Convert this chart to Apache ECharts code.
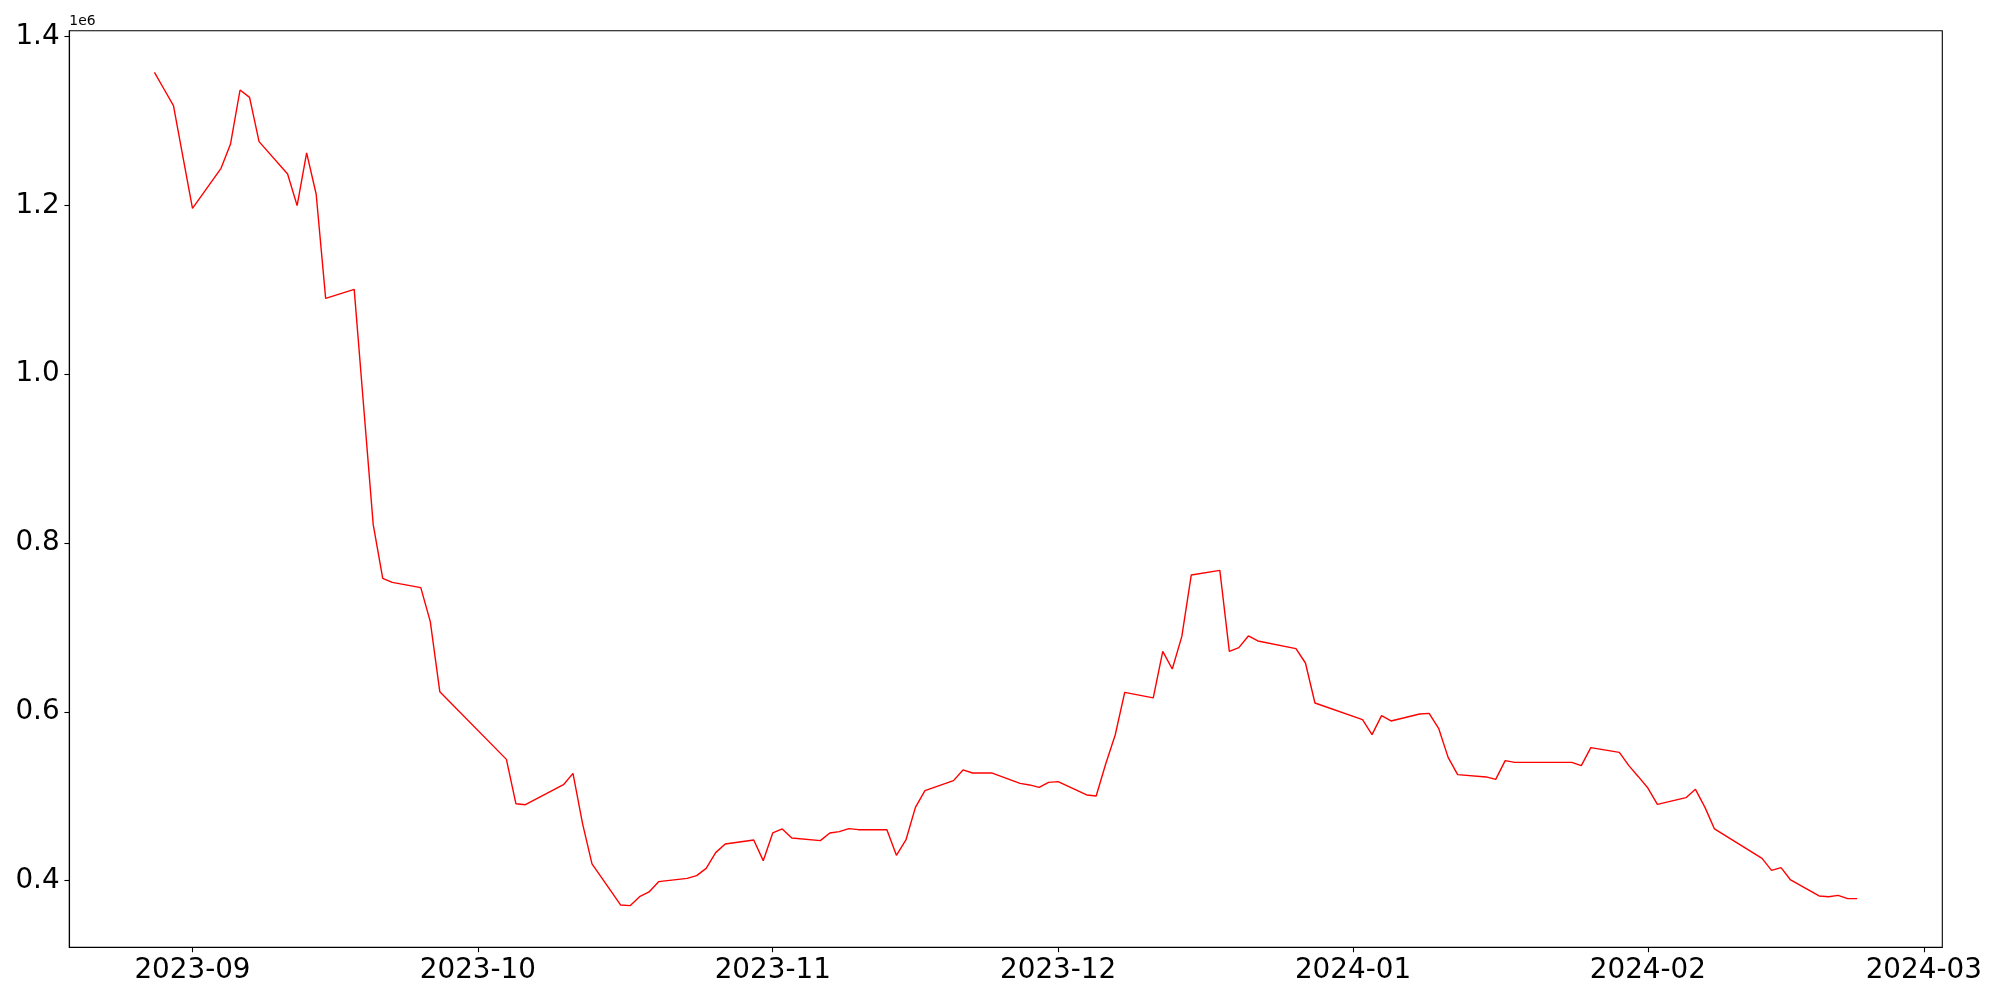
<!DOCTYPE html>
<html>
<head>
<meta charset="utf-8">
<script src="https://cdn.jsdelivr.net/npm/echarts@6/dist/echarts.min.js"></script>
<style>
html, body { margin: 0; padding: 0; background: #fff; }
#chart { width: 2000px; height: 1000px; }
</style>
</head>
<body>
<div id="chart"></div>
<script>
// Trading dates
const dates = [
  '2023-08-28','2023-08-29','2023-08-30','2023-08-31','2023-09-01',
  '2023-09-04','2023-09-05','2023-09-06','2023-09-07','2023-09-08',
  '2023-09-11','2023-09-12','2023-09-13','2023-09-14','2023-09-15',
  '2023-09-18','2023-09-19','2023-09-20','2023-09-21','2023-09-22',
  '2023-09-25','2023-09-26','2023-09-27',
  '2023-10-04','2023-10-05','2023-10-06',
  '2023-10-10','2023-10-11','2023-10-12','2023-10-13',
  '2023-10-16','2023-10-17','2023-10-18','2023-10-19','2023-10-20',
  '2023-10-23','2023-10-24','2023-10-25','2023-10-26','2023-10-27',
  '2023-10-30','2023-10-31','2023-11-01','2023-11-02','2023-11-03',
  '2023-11-06','2023-11-07','2023-11-08','2023-11-09','2023-11-10',
  '2023-11-13','2023-11-14','2023-11-15','2023-11-16','2023-11-17',
  '2023-11-20','2023-11-21','2023-11-22','2023-11-23','2023-11-24',
  '2023-11-27','2023-11-28','2023-11-29','2023-11-30','2023-12-01',
  '2023-12-04','2023-12-05','2023-12-06','2023-12-07','2023-12-08',
  '2023-12-11','2023-12-12','2023-12-13','2023-12-14','2023-12-15',
  '2023-12-18','2023-12-19','2023-12-20','2023-12-21','2023-12-22',
  '2023-12-26','2023-12-27','2023-12-28',
  '2024-01-02','2024-01-03','2024-01-04','2024-01-05',
  '2024-01-08','2024-01-09','2024-01-10','2024-01-11','2024-01-12',
  '2024-01-15','2024-01-16','2024-01-17','2024-01-18','2024-01-19',
  '2024-01-22','2024-01-23','2024-01-24','2024-01-25','2024-01-26',
  '2024-01-29','2024-01-30','2024-01-31','2024-02-01','2024-02-02',
  '2024-02-05','2024-02-06','2024-02-07','2024-02-08',
  '2024-02-13','2024-02-14','2024-02-15','2024-02-16',
  '2024-02-19','2024-02-20','2024-02-21','2024-02-22','2024-02-23'
];

// Series values
const values = [
  1357700, 1338000, 1318200, 1257300, 1196600,
  1244000, 1272900, 1336800, 1328100, 1275600,
  1237300, 1199800, 1262200, 1213600, 1089900,
  1100600, 961000, 821800, 758200, 753400,
  747200, 706900, 623900,
  543700, 491200, 490000,
  513700, 527100, 467900, 419800,
  371200, 370400, 381000, 386600, 398800,
  402700, 405900, 414600, 433200, 443500,
  448200, 423700, 456500, 461300, 450600,
  447400, 456500, 458100, 461600, 460400,
  460400, 430000, 448200, 486800, 506600,
  518500, 531200, 527600, 527600, 527600,
  515300, 513400, 510600, 516500, 517300,
  501500, 500300, 538300, 572600, 623100,
  616500, 671700, 650800, 689100, 762200,
  767700, 671700, 676100, 689900, 684000,
  674900, 657900, 610500,
  590800, 573000, 595500, 589200,
  597500, 598200, 580500, 546100, 525600,
  522900, 520000, 542200, 540200, 540200,
  540200, 540200, 540200, 536300, 557600,
  552000, 536300, 523200, 509700, 490400,
  498300, 508200, 486800, 461300,
  426400, 412200, 415400, 400800,
  381900, 381000, 382600, 378700, 378700
];

// Tick labels
const xTickLabels = ['2023-09','2023-10','2023-11','2023-12','2024-01','2024-02','2024-03'];
const yTickValues = [400000, 600000, 800000, 1000000, 1200000, 1400000];
const yTickLabels = ['0.4', '0.6', '0.8', '1.0', '1.2', '1.4'];
const offsetLabel = '1e6';

function toTs(s) {
  const p = s.split('-').map(Number);
  return Date.UTC(p[0], p[1] - 1, p[2] || 1);
}

const xs = dates.map(toTs);
const seriesData = xs.map((t, i) => [t, values[i]]);
const xTickValues = xTickLabels.map(toTs);

// matplotlib-style 5% margins
const xMinData = Math.min(...xs), xMaxData = Math.max(...xs);
const xSpan = xMaxData - xMinData;
const yMinData = Math.min(...values), yMaxData = Math.max(...values);
const ySpan = yMaxData - yMinData;

const FONT = 'DejaVu Sans';
const chart = echarts.init(document.getElementById('chart'), null, { renderer: 'canvas' });

chart.setOption({
  animation: false,
  backgroundColor: '#ffffff',
  grid: {
    left: 69.3, top: 30.7, right: 57.7, bottom: 52.7,
    containLabel: false,
    show: true, borderColor: '#000', borderWidth: 1.1, backgroundColor: 'transparent'
  },
  xAxis: {
    type: 'value',
    min: xMinData - 0.05 * xSpan,
    max: xMaxData + 0.05 * xSpan,
    splitLine: { show: false },
    axisLine: { show: true, onZero: false, lineStyle: { color: '#000', width: 1.1 } },
    axisTick: { show: true, length: 4.9, lineStyle: { color: '#000', width: 1.1 }, customValues: xTickValues },
    axisLabel: {
      show: true, margin: 9.7, color: '#000', fontSize: 27.8, fontFamily: FONT,
      customValues: xTickValues,
      formatter: function (v) {
        const i = xTickValues.indexOf(v);
        return i >= 0 ? xTickLabels[i] : '';
      }
    }
  },
  yAxis: {
    type: 'value',
    min: yMinData - 0.05 * ySpan,
    max: yMaxData + 0.05 * ySpan,
    splitLine: { show: false },
    axisLine: { show: true, onZero: false, lineStyle: { color: '#000', width: 1.1 } },
    axisTick: { show: true, length: 4.9, lineStyle: { color: '#000', width: 1.1 }, customValues: yTickValues },
    axisLabel: {
      show: true, margin: 9.7, color: '#000', fontSize: 27.8, fontFamily: FONT,
      padding: [3, 0, 0, 0],
      customValues: yTickValues,
      formatter: function (v) {
        const i = yTickValues.indexOf(v);
        return i >= 0 ? yTickLabels[i] : '';
      }
    }
  },
  graphic: [{
    type: 'text', left: 69.3, top: 14.5,
    style: { text: offsetLabel, fontSize: 13.9, fontFamily: FONT, fill: '#000' }
  }],
  series: [{
    type: 'line',
    data: seriesData,
    showSymbol: false,
    symbol: 'none',
    lineStyle: { color: '#ff0000', width: 1.4 },
    itemStyle: { color: '#ff0000' },
    silent: true
  }]
});
</script>
</body>
</html>
